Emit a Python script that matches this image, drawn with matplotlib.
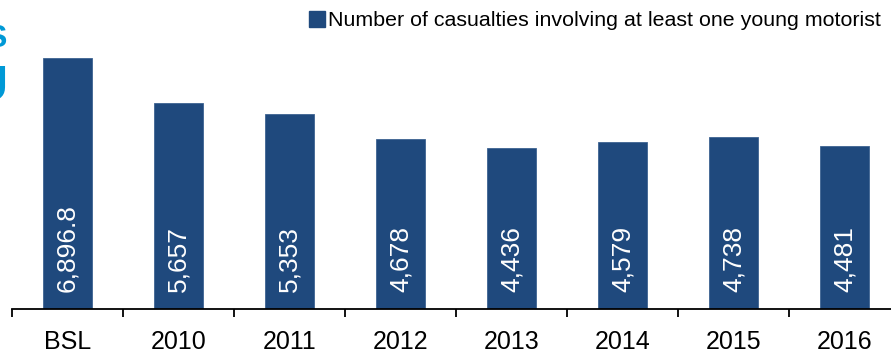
import matplotlib
matplotlib.use("Agg")
import matplotlib.pyplot as plt
from matplotlib.patches import Patch

categories = ["BSL", "2010", "2011", "2012", "2013", "2014", "2015", "2016"]
values = [6896.8, 5657, 5353, 4678, 4436, 4579, 4738, 4481]
labels = ["6,896.8", "5,657", "5,353", "4,678", "4,436", "4,579", "4,738", "4,481"]
legend_label = "Number of casualties involving at least one young motorist"

plt.rcParams['font.family'] = ['Liberation Sans', 'DejaVu Sans']
BAR = "#1f497d"

W, H = 891, 354
fig = plt.figure(figsize=(W / 100, H / 100), dpi=100)
ax = fig.add_axes([12 / W, 45 / H, (W - 12) / W, 309 / H])

x = list(range(len(categories)))
ax.bar(x, values, width=0.45, color=BAR, edgecolor="#3d6391", linewidth=0.6)

ax.set_xlim(-0.5, (W - 12) / 111 - 0.5)
ax.set_ylim(0, 309 / (251 / 6896.8))

for i, lab in enumerate(labels):
    ax.annotate(lab, xy=(i, 0), xytext=(0, 12), textcoords="offset points",
                ha="center", va="bottom", rotation=90, color="white", fontsize=19)

for s in ["top", "right", "left"]:
    ax.spines[s].set_visible(False)
ax.spines["bottom"].set_linewidth(1.3)
ax.set_yticks([])
ax.set_xticks(x)
ax.set_xticklabels(categories, fontsize=18)
ax.tick_params(axis="x", which="major", length=0, pad=15)
ax.set_xticks([i - 0.5 for i in range(len(categories))], minor=True)
ax.tick_params(axis="x", which="minor", length=6, width=1.3, direction="out")

ax.legend(handles=[Patch(facecolor=BAR, edgecolor=BAR)], labels=[legend_label],
          loc="upper right", bbox_to_anchor=(892 / W, 1.0), bbox_transform=fig.transFigure,
          frameon=False, fontsize=15.4, handlelength=0.75, handleheight=0.8,
          handletextpad=0.15, borderaxespad=0.3, borderpad=0.2)

fig.text(6 / W, 1 - 39 / H, "S", ha="right", va="center", color="#0099d6",
         fontsize=23, fontweight="bold")
fig.text(8 / W, 1 - 88 / H, "U", ha="right", va="center", color="#0099d6",
         fontsize=36, fontweight="bold")

fig.savefig("out.png", dpi=100)
